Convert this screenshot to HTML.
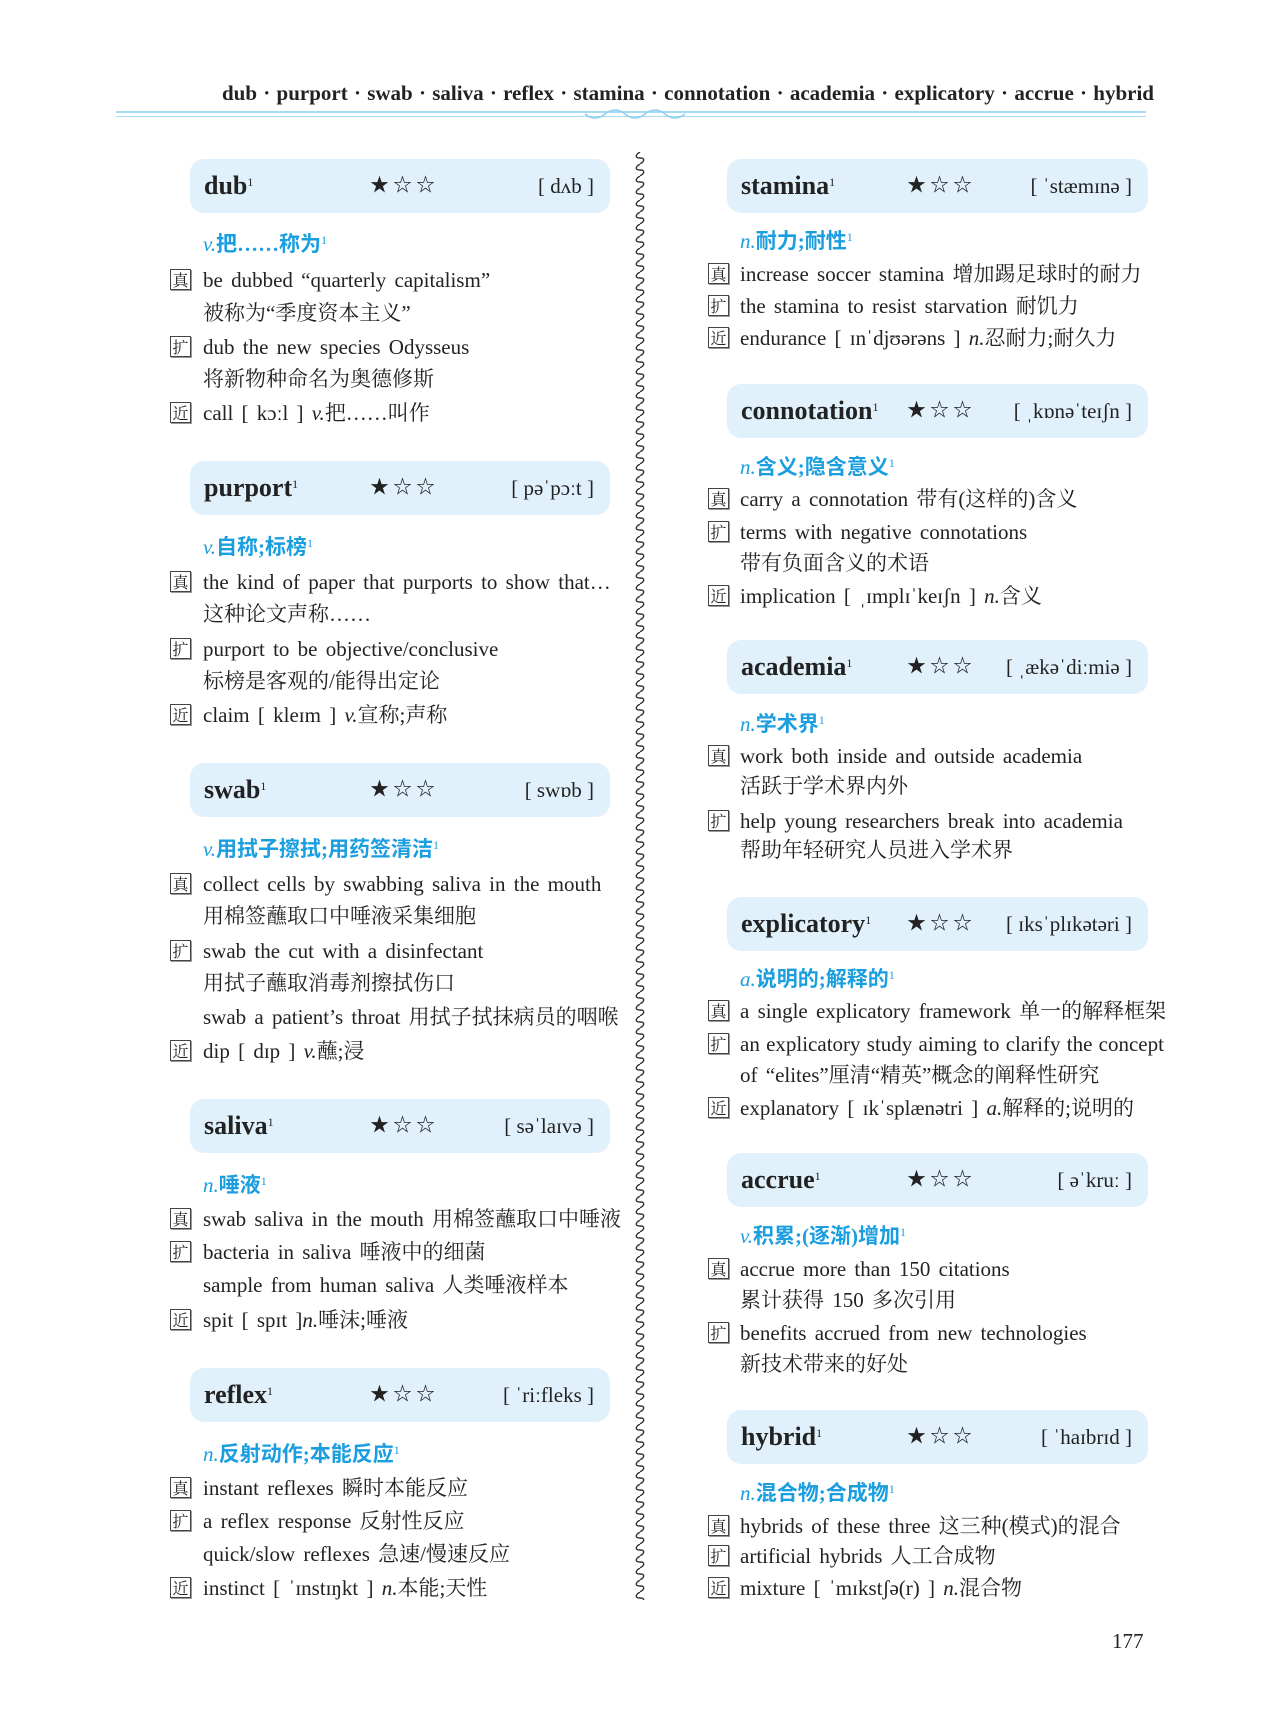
<!DOCTYPE html>
<html><head><meta charset="utf-8"><style>
body{margin:0;width:1281px;height:1724px;background:#fff;position:relative;overflow:hidden;font-family:"Liberation Serif","Noto Serif CJK SC",serif;color:#222}
.t{position:absolute;font-size:21px;line-height:24px;white-space:nowrap;word-spacing:3px}
.ic{position:absolute;width:19px;height:19px;border:1.3px solid #444;font-size:16px;line-height:19px;text-align:center;font-family:"Noto Serif CJK SC",serif;box-shadow:1px 1px 0 #999}
.s{position:absolute;font-size:21px;line-height:24px;color:#1a9ee0;font-weight:bold;font-family:"Liberation Serif","Noto Sans CJK SC",sans-serif;white-space:nowrap}
.s i{font-weight:normal;font-family:"Liberation Serif",serif}
sup{font-size:12px;vertical-align:top;position:relative;top:-4px;font-weight:normal}
.b{position:absolute;background:#e1f1fb;border-radius:14px;height:54px}
.b .w{position:absolute;left:14px;top:13px;font-size:26px;font-weight:bold;line-height:28px}
.b .st{position:absolute;top:15px;font-size:19px;line-height:24px;letter-spacing:4px}
.b .p{position:absolute;right:16px;top:14px;font-size:21px;line-height:26px}
</style></head><body>
<div class="t" style="left:222px;top:81px;font-weight:bold;font-size:21px;word-spacing:1px">dub · purport · swab · saliva · reflex · stamina · connotation · academia · explicatory · accrue · hybrid</div>
<div style="position:absolute;left:116px;top:111px;width:1030px;height:2px;background:#a8daf4"></div>
<div style="position:absolute;left:116px;top:116px;width:1030px;height:1px;background:#a8daf4"></div>
<svg style="position:absolute;left:580px;top:104px" width="110" height="20"><path d="M5 10 Q15 18 25 10 T45 10 T65 10 T85 10 T105 10" stroke="#8fd0f0" fill="none" stroke-width="1.5"/></svg>
<svg style="position:absolute;left:632px;top:152px" width="16" height="1448"><defs><pattern id="wv" width="16" height="12" patternUnits="userSpaceOnUse"><path d="M8 0 C3 3 3 6 8 6 C13 6 13 9 8 12" stroke="#333" fill="none" stroke-width="1.4"/></pattern></defs><rect width="16" height="1448" fill="url(#wv)"/></svg>

<!-- LEFT -->
<div class="b" style="left:190px;top:159px;width:420px"><span class="w">dub<sup>1</sup></span><span class="st" style="left:180px">★☆☆</span><span class="p">[ dʌb ]</span></div>
<div class="s" style="left:203px;top:232px"><i>v.</i>把……称为<sup>1</sup></div>
<div class="ic" style="left:170px;top:269px">真</div><div class="t" style="left:203px;top:268px">be dubbed “quarterly capitalism”</div>
<div class="t" style="left:203px;top:301px">被称为“季度资本主义”</div>
<div class="ic" style="left:170px;top:336px">扩</div><div class="t" style="left:203px;top:335px">dub the new species Odysseus</div>
<div class="t" style="left:203px;top:367px">将新物种命名为奥德修斯</div>
<div class="ic" style="left:170px;top:402px">近</div><div class="t" style="left:203px;top:401px">call [ kɔːl ] <i>v.</i>把……叫作</div>

<div class="b" style="left:190px;top:461px;width:420px"><span class="w">purport<sup>1</sup></span><span class="st" style="left:180px">★☆☆</span><span class="p">[ pəˈpɔːt ]</span></div>
<div class="s" style="left:203px;top:535px"><i>v.</i>自称;标榜<sup>1</sup></div>
<div class="ic" style="left:170px;top:571px">真</div><div class="t" style="left:203px;top:570px">the kind of paper that purports to show that…</div>
<div class="t" style="left:203px;top:602px">这种论文声称……</div>
<div class="ic" style="left:170px;top:638px">扩</div><div class="t" style="left:203px;top:637px">purport to be objective/conclusive</div>
<div class="t" style="left:203px;top:669px">标榜是客观的/能得出定论</div>
<div class="ic" style="left:170px;top:704px">近</div><div class="t" style="left:203px;top:703px">claim [ kleɪm ] <i>v.</i>宣称;声称</div>

<div class="b" style="left:190px;top:763px;width:420px"><span class="w">swab<sup>1</sup></span><span class="st" style="left:180px">★☆☆</span><span class="p">[ swɒb ]</span></div>
<div class="s" style="left:203px;top:837px"><i>v.</i>用拭子擦拭;用药签清洁<sup>1</sup></div>
<div class="ic" style="left:170px;top:873px">真</div><div class="t" style="left:203px;top:872px">collect cells by swabbing saliva in the mouth</div>
<div class="t" style="left:203px;top:904px">用棉签蘸取口中唾液采集细胞</div>
<div class="ic" style="left:170px;top:940px">扩</div><div class="t" style="left:203px;top:939px">swab the cut with a disinfectant</div>
<div class="t" style="left:203px;top:971px">用拭子蘸取消毒剂擦拭伤口</div>
<div class="t" style="left:203px;top:1005px">swab a patient’s throat 用拭子拭抹病员的咽喉</div>
<div class="ic" style="left:170px;top:1040px">近</div><div class="t" style="left:203px;top:1039px">dip [ dɪp ] <i>v.</i>蘸;浸</div>

<div class="b" style="left:190px;top:1099px;width:420px"><span class="w">saliva<sup>1</sup></span><span class="st" style="left:180px">★☆☆</span><span class="p">[ səˈlaɪvə ]</span></div>
<div class="s" style="left:203px;top:1173px"><i>n.</i>唾液<sup>1</sup></div>
<div class="ic" style="left:170px;top:1208px">真</div><div class="t" style="left:203px;top:1207px">swab saliva in the mouth 用棉签蘸取口中唾液</div>
<div class="ic" style="left:170px;top:1241px">扩</div><div class="t" style="left:203px;top:1240px">bacteria in saliva 唾液中的细菌</div>
<div class="t" style="left:203px;top:1273px">sample from human saliva 人类唾液样本</div>
<div class="ic" style="left:170px;top:1309px">近</div><div class="t" style="left:203px;top:1308px">spit [ spɪt ]<i>n.</i>唾沫;唾液</div>

<div class="b" style="left:190px;top:1368px;width:420px"><span class="w">reflex<sup>1</sup></span><span class="st" style="left:180px">★☆☆</span><span class="p">[ ˈriːfleks ]</span></div>
<div class="s" style="left:203px;top:1442px"><i>n.</i>反射动作;本能反应<sup>1</sup></div>
<div class="ic" style="left:170px;top:1477px">真</div><div class="t" style="left:203px;top:1476px">instant reflexes 瞬时本能反应</div>
<div class="ic" style="left:170px;top:1510px">扩</div><div class="t" style="left:203px;top:1509px">a reflex response 反射性反应</div>
<div class="t" style="left:203px;top:1542px">quick/slow reflexes 急速/慢速反应</div>
<div class="ic" style="left:170px;top:1577px">近</div><div class="t" style="left:203px;top:1576px">instinct [ ˈɪnstɪŋkt ] <i>n.</i>本能;天性</div>

<!-- RIGHT -->
<div class="b" style="left:727px;top:159px;width:421px"><span class="w">stamina<sup>1</sup></span><span class="st" style="left:180px">★☆☆</span><span class="p">[ ˈstæmɪnə ]</span></div>
<div class="s" style="left:740px;top:229px"><i>n.</i>耐力;耐性<sup>1</sup></div>
<div class="ic" style="left:708px;top:263px">真</div><div class="t" style="left:740px;top:262px">increase soccer stamina 增加踢足球时的耐力</div>
<div class="ic" style="left:708px;top:295px">扩</div><div class="t" style="left:740px;top:294px">the stamina to resist starvation 耐饥力</div>
<div class="ic" style="left:708px;top:327px">近</div><div class="t" style="left:740px;top:326px">endurance [ ɪnˈdjʊərəns ] <i>n.</i>忍耐力;耐久力</div>

<div class="b" style="left:727px;top:384px;width:421px"><span class="w">connotation<sup>1</sup></span><span class="st" style="left:180px">★☆☆</span><span class="p">[ ˌkɒnəˈteɪʃn ]</span></div>
<div class="s" style="left:740px;top:455px"><i>n.</i>含义;隐含意义<sup>1</sup></div>
<div class="ic" style="left:708px;top:488px">真</div><div class="t" style="left:740px;top:487px">carry a connotation 带有(这样的)含义</div>
<div class="ic" style="left:708px;top:521px">扩</div><div class="t" style="left:740px;top:520px">terms with negative connotations</div>
<div class="t" style="left:740px;top:551px">带有负面含义的术语</div>
<div class="ic" style="left:708px;top:585px">近</div><div class="t" style="left:740px;top:584px">implication [ ˌɪmplɪˈkeɪʃn ] <i>n.</i>含义</div>

<div class="b" style="left:727px;top:640px;width:421px"><span class="w">academia<sup>1</sup></span><span class="st" style="left:180px">★☆☆</span><span class="p">[ ˌækəˈdiːmiə ]</span></div>
<div class="s" style="left:740px;top:712px"><i>n.</i>学术界<sup>1</sup></div>
<div class="ic" style="left:708px;top:745px">真</div><div class="t" style="left:740px;top:744px">work both inside and outside academia</div>
<div class="t" style="left:740px;top:774px">活跃于学术界内外</div>
<div class="ic" style="left:708px;top:810px">扩</div><div class="t" style="left:740px;top:809px">help young researchers break into academia</div>
<div class="t" style="left:740px;top:838px">帮助年轻研究人员进入学术界</div>

<div class="b" style="left:727px;top:897px;width:421px"><span class="w">explicatory<sup>1</sup></span><span class="st" style="left:180px">★☆☆</span><span class="p">[ ɪksˈplɪkətəri ]</span></div>
<div class="s" style="left:740px;top:967px"><i>a.</i>说明的;解释的<sup>1</sup></div>
<div class="ic" style="left:708px;top:1000px">真</div><div class="t" style="left:740px;top:999px">a single explicatory framework 单一的解释框架</div>
<div class="ic" style="left:708px;top:1033px">扩</div><div class="t" style="left:740px;top:1032px;word-spacing:1px">an explicatory study aiming to clarify the concept</div>
<div class="t" style="left:740px;top:1063px">of “elites”厘清“精英”概念的阐释性研究</div>
<div class="ic" style="left:708px;top:1097px">近</div><div class="t" style="left:740px;top:1096px">explanatory [ ɪkˈsplænətri ] <i>a.</i>解释的;说明的</div>

<div class="b" style="left:727px;top:1153px;width:421px"><span class="w">accrue<sup>1</sup></span><span class="st" style="left:180px">★☆☆</span><span class="p">[ əˈkruː ]</span></div>
<div class="s" style="left:740px;top:1224px"><i>v.</i>积累;(逐渐)增加<sup>1</sup></div>
<div class="ic" style="left:708px;top:1258px">真</div><div class="t" style="left:740px;top:1257px">accrue more than 150 citations</div>
<div class="t" style="left:740px;top:1288px">累计获得 150 多次引用</div>
<div class="ic" style="left:708px;top:1322px">扩</div><div class="t" style="left:740px;top:1321px">benefits accrued from new technologies</div>
<div class="t" style="left:740px;top:1352px">新技术带来的好处</div>

<div class="b" style="left:727px;top:1410px;width:421px"><span class="w">hybrid<sup>1</sup></span><span class="st" style="left:180px">★☆☆</span><span class="p">[ ˈhaɪbrɪd ]</span></div>
<div class="s" style="left:740px;top:1481px"><i>n.</i>混合物;合成物<sup>1</sup></div>
<div class="ic" style="left:708px;top:1515px">真</div><div class="t" style="left:740px;top:1514px">hybrids of these three 这三种(模式)的混合</div>
<div class="ic" style="left:708px;top:1545px">扩</div><div class="t" style="left:740px;top:1544px">artificial hybrids 人工合成物</div>
<div class="ic" style="left:708px;top:1577px">近</div><div class="t" style="left:740px;top:1576px">mixture [ ˈmɪkstʃə(r) ] <i>n.</i>混合物</div>

<div class="t" style="left:1112px;top:1629px">177</div>
</body></html>
